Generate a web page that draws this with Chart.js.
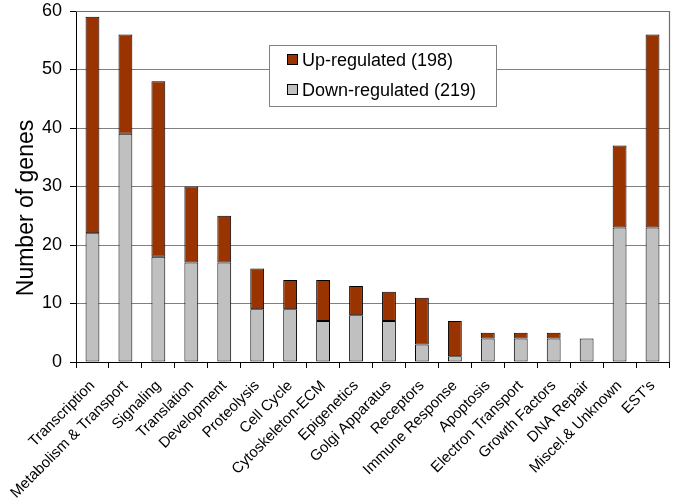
<!DOCTYPE html>
<html>
<head>
<meta charset="utf-8">
<script src="https://cdn.jsdelivr.net/npm/chart.js@4"></script>
<style>
  html, body { margin: 0; padding: 0; background: #fff; }
  #wrap { width: 674px; height: 503px; position: relative; }
</style>
</head>
<body>
<div id="wrap"><canvas id="c" width="674" height="503"></canvas></div>
<script>
const categories = ["Transcription", "Metabolism & Transport", "Signaling", "Translation", "Development",
  "Proteolysis", "Cell Cycle", "Cytoskeleton-ECM", "Epigenetics", "Golgi Apparatus", "Receptors",
  "Immune Response", "Apoptosis", "Electron Transport", "Growth Factors", "DNA Repair",
  "Miscel.& Unknown", "EST's"];
const downRegulated = [22, 39, 18, 17, 17, 9, 9, 7, 8, 7, 3, 1, 4, 4, 4, 4, 23, 23];
const upRegulated   = [37, 17, 30, 13, 8, 7, 5, 7, 5, 5, 8, 6, 1, 1, 1, 0, 14, 33];
const seriesLabels = ["Up-regulated (198)", "Down-regulated (219)"];
const yAxisTitle = "Number of genes";
const yMin = 0, yMax = 60, yStep = 10;

const FONT = "'Liberation Sans', Arial, sans-serif";
const UP_COLOR = '#993300';
const DOWN_COLOR = '#C0C0C0';

const framePlugin = {
  id: 'frame',
  beforeDatasetsDraw(chart) {
    const a = chart.chartArea, ctx = chart.ctx;
    ctx.save();
    ctx.strokeStyle = '#6e6e6e';
    ctx.lineWidth = 1.2;
    ctx.beginPath();
    ctx.moveTo(a.left, a.top + 0.5);
    ctx.lineTo(a.right + 0.5, a.top + 0.5);
    ctx.lineTo(a.right + 0.5, a.bottom);
    ctx.stroke();
    ctx.restore();
  },
  afterDraw(chart) {
    const ctx = chart.ctx;
    // y-axis title
    ctx.save();
    ctx.fillStyle = '#000';
    ctx.font = '23px ' + FONT;
    ctx.textAlign = 'center';
    ctx.textBaseline = 'middle';
    ctx.translate(27, 208);
    ctx.rotate(-Math.PI / 2);
    ctx.fillText(yAxisTitle, 0, 0);
    ctx.restore();

    // legend box
    const bx = 269.5, by = 45.5, bw = 227, bh = 61;
    ctx.save();
    ctx.fillStyle = '#fff';
    ctx.fillRect(bx, by, bw, bh);
    ctx.strokeStyle = '#808080';
    ctx.lineWidth = 1;
    ctx.strokeRect(bx, by, bw, bh);
    const ds = chart.data.datasets;
    const items = [ds[1], ds[0]];
    ctx.font = '18px ' + FONT;
    ctx.textBaseline = 'middle';
    ctx.textAlign = 'left';
    items.forEach((d, i) => {
      const cy = 60 + i * 30;
      ctx.fillStyle = d.backgroundColor;
      ctx.fillRect(287.5, cy - 5.5, 10, 10);
      ctx.strokeStyle = '#000';
      ctx.strokeRect(287.5, cy - 5.5, 10, 10);
      ctx.fillStyle = '#000';
      ctx.fillText(d.label, 302, cy + 1);
    });
    ctx.restore();
  }
};

new Chart(document.getElementById('c'), {
  type: 'bar',
  data: {
    labels: categories,
    datasets: [
      { label: seriesLabels[1], data: downRegulated, backgroundColor: DOWN_COLOR,
        borderColor: '#000', borderWidth: 1, borderSkipped: false },
      { label: seriesLabels[0], data: upRegulated, backgroundColor: UP_COLOR,
        borderColor: '#000', borderWidth: 1, borderSkipped: false }
    ]
  },
  options: {
    responsive: false,
    animation: false,
    devicePixelRatio: 1,
    layout: { padding: { left: 0, top: 11, right: 5, bottom: 0 } },
    categoryPercentage: 1,
    barPercentage: 0.42,
    plugins: { legend: { display: false }, tooltip: { enabled: false } },
    scales: {
      x: {
        stacked: true,
        afterFit(scale) { scale.height = 503 - 362; scale.paddingLeft = 0; scale.paddingRight = 0; },
        grid: { display: true, drawOnChartArea: false, offset: true, color: '#000', tickLength: 6 },
        border: { color: '#000', width: 1 },
        ticks: {
          color: '#000', font: { family: FONT, size: 15 }, maxRotation: 45, minRotation: 45,
          autoSkip: false, padding: 9
        }
      },
      y: {
        stacked: true,
        min: yMin, max: yMax,
        afterFit(scale) { scale.width = 76; scale.paddingTop = 0; scale.paddingBottom = 0; },
        grid: { color: '#808080', lineWidth: 1, tickColor: '#000', tickLength: 6 },
        border: { color: '#000', width: 1 },
        ticks: { stepSize: yStep, color: '#000', font: { family: FONT, size: 18 }, padding: 8 }
      }
    }
  },
  plugins: [framePlugin]
});
</script>
</body>
</html>
